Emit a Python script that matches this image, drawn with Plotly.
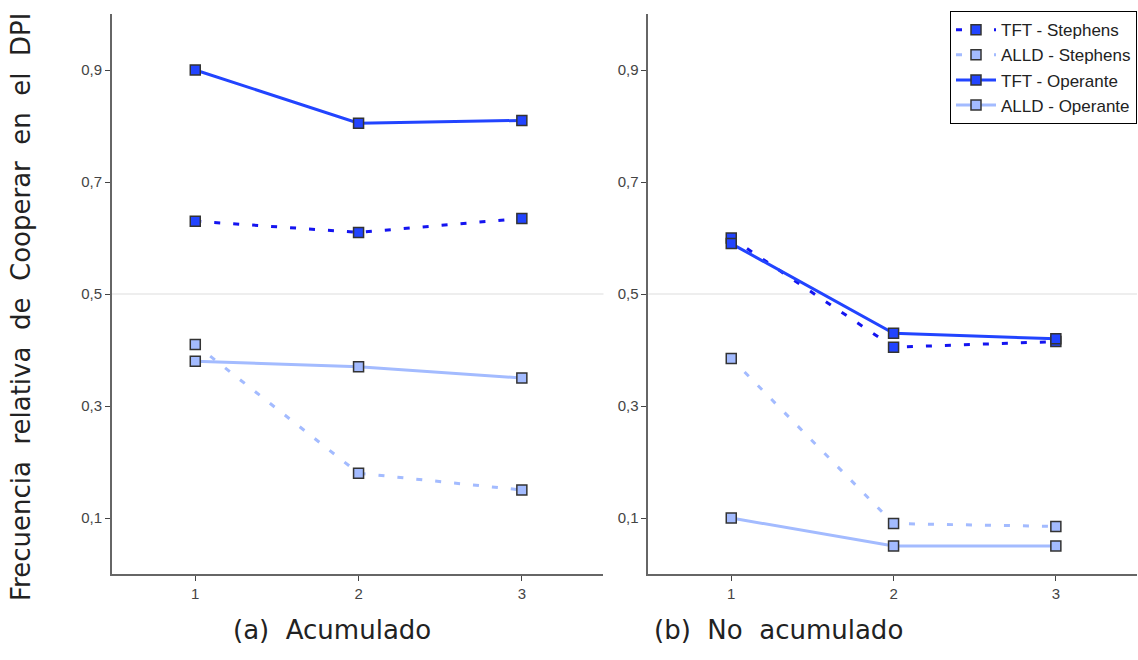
import plotly.graph_objects as go

sessions = [1, 2, 3]
tft_steph_acum = [0.63, 0.61, 0.635]
alld_steph_acum = [0.41, 0.18, 0.15]
tft_oper_acum = [0.90, 0.805, 0.81]
alld_oper_acum = [0.38, 0.37, 0.35]

tft_steph_noac = [0.60, 0.405, 0.415]
alld_steph_noac = [0.385, 0.09, 0.085]
tft_oper_noac = [0.59, 0.43, 0.42]
alld_oper_noac = [0.10, 0.05, 0.05]

ytick_vals = [0.1, 0.3, 0.5, 0.7, 0.9]
ytick_text = ["0,1", "0,3", "0,5", "0,7", "0,9"]

DARK = "#2244ff"
DARKD = "#1414f0"
LIGHT = "#a3bbff"

series_style = [
    ("TFT - Stephens", DARKD, DARK, "6px,13px"),
    ("ALLD - Stephens", LIGHT, LIGHT, "6px,13px"),
    ("TFT - Operante", DARK, DARK, "solid"),
    ("ALLD - Operante", LIGHT, LIGHT, "solid"),
]

panels = [
    ("x", "y", [tft_steph_acum, alld_steph_acum, tft_oper_acum, alld_oper_acum]),
    ("x2", "y2", [tft_steph_noac, alld_steph_noac, tft_oper_noac, alld_oper_noac]),
]

fig = go.Figure()
for pi, (xa, ya, data) in enumerate(panels):
    for (name, lc, mc, dash), vals in zip(series_style, data):
        fig.add_trace(go.Scatter(
            x=sessions, y=vals, mode="lines+markers", name=name,
            xaxis=xa, yaxis=ya, showlegend=(pi == 1),
            line=dict(color=lc, width=3, dash=dash),
            marker=dict(symbol="square", size=10, color=mc,
                        line=dict(color="#333333", width=1.5)),
        ))

axis_common = dict(showline=True, linecolor="#666666", linewidth=2,
                   ticks="outside", ticklen=5, tickcolor="#444444",
                   showgrid=False, zeroline=False,
                   tickfont=dict(family="Liberation Sans, Arial", size=15, color="#444444"))

fig.update_layout(
    width=1138, height=660,
    margin=dict(l=112, r=1, t=14, b=86),
    paper_bgcolor="white", plot_bgcolor="white",
    xaxis=dict(domain=[0, 0.4795], range=[0.49, 3.5], tickvals=sessions,
               ticktext=["1", "2", "3"], anchor="y", **axis_common),
    xaxis2=dict(domain=[0.5234, 1], range=[0.49, 3.5], tickvals=sessions,
                ticktext=["1", "2", "3"], anchor="y2", **axis_common),
    yaxis=dict(range=[0, 1], tickvals=ytick_vals, ticktext=ytick_text,
               anchor="x", **axis_common),
    yaxis2=dict(range=[0, 1], tickvals=ytick_vals, ticktext=ytick_text,
                anchor="x2", **axis_common),
    legend=dict(x=1, y=1.005, xanchor="right", yanchor="top",
                bordercolor="#000000", borderwidth=1, bgcolor="white",
                font=dict(family="Liberation Sans, Arial", size=17, color="#222222"),
                tracegroupgap=0, itemwidth=40),
    showlegend=True,
)

for xa, ya in [("x", "y"), ("x2", "y2")]:
    fig.add_shape(type="line", xref=f"{xa} domain", yref=ya, x0=0, x1=1,
                  y0=0.5, y1=0.5, line=dict(color="#dddddd", width=1), layer="below")

fig.add_annotation(text="Frecuencia  relativa  de  Cooperar  en  el  DPI",
                   xref="paper", yref="paper", x=(21 - 112) / 1025, y=(574 - 307) / 560,
                   xanchor="center", yanchor="middle", textangle=-90, showarrow=False,
                   font=dict(family="DejaVu Sans", size=26, color="#222222"))
fig.add_annotation(text="(a)  Acumulado", xref="paper", yref="paper",
                   x=(332 - 112) / 1025, y=-0.1, xanchor="center", yanchor="middle",
                   showarrow=False,
                   font=dict(family="DejaVu Sans", size=26, color="#222222"))
fig.add_annotation(text="(b)  No  acumulado", xref="paper", yref="paper",
                   x=(778 - 112) / 1025, y=-0.1, xanchor="center", yanchor="middle",
                   showarrow=False,
                   font=dict(family="DejaVu Sans", size=26, color="#222222"))

fig.write_html("out.html")
